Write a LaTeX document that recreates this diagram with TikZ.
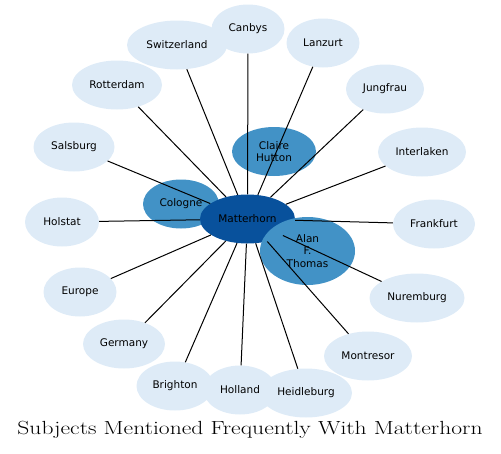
\documentclass[tikz,border=0pt]{standalone}
\usepackage{fontspec}
\newfontfamily\etiq{DejaVu Sans}
\usetikzlibrary{shapes.geometric}
\definecolor{azulclaro}{HTML}{DEEBF7}
\definecolor{azulmedio}{HTML}{4292C6}
\definecolor{azuloscuro}{HTML}{08519C}
\begin{document}
\begin{tikzpicture}[x=1pt, y=-1pt,
    nodo/.style={ellipse, inner sep=0pt, minimum height=49pt, align=center,
      font=\etiq\fontsize{10.5}{12.5}\selectfont},
    hoja/.style={nodo, fill=azulclaro},
    medio/.style={nodo, fill=azulmedio},
    centro/.style={nodo, fill=azuloscuro},
    arista/.style={line width=1pt}]
  \useasboundingbox (0,0) rectangle (501,453);
  % los del medio y el centro
  \node[medio, minimum width=76pt] (cologne) at (181,204) {Cologne};
  \node[medio, minimum width=84pt] (claire) at (274,151.5) {Claire\\Hutton};
  \node[centro, minimum width=95pt] (matt) at (247.5,219) {Matterhorn};
  \node[medio, minimum width=95pt, minimum height=68pt] (alan) at (307.5,251) {Alan\\F.\\Thomas};
  % las hojas de alrededor
  \node[hoja, minimum width=100pt] (switzerland) at (177,45) {Switzerland};
  \node[hoja, minimum width=73pt] (canbys) at (248,29) {Canbys};
  \node[hoja, minimum width=73pt] (lanzurt) at (323,43) {Lanzurt};
  \node[hoja, minimum width=90pt] (rotterdam) at (117,85) {Rotterdam};
  \node[hoja, minimum width=78pt] (jungfrau) at (385,89) {Jungfrau};
  \node[hoja, minimum width=81pt] (salsburg) at (74,147) {Salsburg};
  \node[hoja, minimum width=88pt] (interlaken) at (422,152) {Interlaken};
  \node[hoja, minimum width=74pt] (holstat) at (62,222) {Holstat};
  \node[hoja, minimum width=82pt] (frankfurt) at (434,224) {Frankfurt};
  \node[hoja, minimum width=73pt] (europe) at (80,292) {Europe};
  \node[hoja, minimum width=95pt] (nuremburg) at (417,298) {Nuremburg};
  \node[hoja, minimum width=82pt] (germany) at (124,344) {Germany};
  \node[hoja, minimum width=88pt] (montresor) at (368,356) {Montresor};
  \node[hoja, minimum width=77pt] (brighton) at (175,386) {Brighton};
  \node[hoja, minimum width=73pt] (holland) at (240,390) {Holland};
  \node[hoja, minimum width=92pt] (heidleburg) at (306,393) {Heidleburg};
  % las aristas
  \foreach \n in {switzerland,canbys,lanzurt,rotterdam,jungfrau,salsburg,
      interlaken,holstat,frankfurt,europe,nuremburg,germany,montresor,
      brighton,holland,heidleburg}
    \draw[arista] (matt) -- (\n);
  % el titulo
  \node[anchor=base] (titulo) at (250,434.5)
    {\fontsize{19}{20}\selectfont\scalebox{1.24}[1]{Subjects Mentioned Frequently With Matterhorn}};
\end{tikzpicture}
\end{document}
